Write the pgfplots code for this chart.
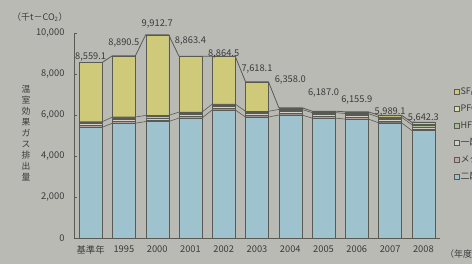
\documentclass[border=0pt]{standalone}
\usepackage{fontspec}
\setmainfont{Noto Sans CJK JP}
\usepackage{pgfplots}
\pgfplotsset{compat=1.18}
\usepackage{pgfplotstable}

\definecolor{bg}{HTML}{BABAB5}
\definecolor{co2}{HTML}{9EC3CF}
\definecolor{ch4}{HTML}{C4A9A2}
\definecolor{n2o}{HTML}{D2D2CA}
\definecolor{hfc}{HTML}{A9BE94}
\definecolor{pfc}{HTML}{DCDCB0}
\definecolor{sf6}{HTML}{CFC97A}
\definecolor{txt}{HTML}{3A3A3A}
\definecolor{edge}{HTML}{5A5A55}

\pgfplotstableread{
x co2 ch4 n2o hfc pfc sf6
0 5400 90 110 40 30 2889.1
1 5600 90 110 60 40 2990.5
2 5680 80 110 60 50 3932.7
3 5850 80 100 60 50 2723.4
4 6250 80 100 60 40 2334.5
5 5900 80 100 60 40 1438.1
6 6000 80 100 60 30 88.0
7 5850 80 100 60 30 67.0
8 5800 80 100 60 30 85.9
9 5620 80 100 60 30 99.1
10 5240 80 100 80 30 112.3
}\gasdata

\pgfplotstableread{
x tot co2 mid
-0.345 8559.1 5400 5670
0.345 8559.1 5400 5670
0.655 8890.5 5600 5900
1.345 8890.5 5600 5900
1.655 9912.7 5680 5980
2.345 9912.7 5680 5980
2.655 8863.4 5850 6140
3.345 8863.4 5850 6140
3.655 8864.5 6250 6530
4.345 8864.5 6250 6530
4.655 7618.1 5900 6180
5.345 7618.1 5900 6180
5.655 6358.0 6000 6270
6.345 6358.0 6000 6270
6.655 6187.0 5850 6120
7.345 6187.0 5850 6120
7.655 6155.9 5800 6070
8.345 6155.9 5800 6070
8.655 5989.1 5620 5890
9.345 5989.1 5620 5890
9.655 5642.3 5240 5530
10.345 5642.3 5240 5530
}\serieslines

\pgfplotstableread{
x y label
0 8830 8,559.1
1 9530 8,890.5
2 10440 9,912.7
3 9620 8,863.4
4 8980 8,864.5
5 8250 7,618.1
6 7710 6,358.0
7 7080 6,187.0
8 6730 6,155.9
9 6160 5,989.1
10 5840 5,642.3
}\labeldata

\begin{document}
\begin{tikzpicture}
\fill[bg] (0,0) rectangle (472pt,264pt);
\begin{axis}[
  at={(74pt,26pt)}, anchor=south west,
  scale only axis, width=366pt, height=205pt,
  xmin=-0.5, xmax=10.5, ymin=0, ymax=10000,
  ybar stacked, bar width=23pt,
  axis x line*=bottom, axis y line*=left,
  axis line style={draw=edge, line width=0.8pt},
  xtick={0,...,10},
  xticklabels={基準年,1995,2000,2001,2002,2003,2004,2005,2006,2007,2008},
  ytick={0,2000,4000,6000,8000,10000},
  scaled y ticks=false,
  xtick style={draw=none},
  ytick style={draw=edge, line width=0.6pt},
  tick align=inside, major tick length=3pt,
  /pgf/number format/assume math mode=true,
  /pgf/number format/1000 sep={,},
  tick label style={font=\fontsize{9.3}{11}\selectfont, text=txt},
  yticklabel style={xshift=-6pt},
  xticklabel style={yshift=-4pt},
  clip=false,
  reverse legend,
  legend style={at={(rel axis cs:1.03,0.75)}, anchor=north west,
    draw=none, fill=none, font=\fontsize{9}{10}\selectfont, text=txt,
    row sep=6.5pt, nodes={inner sep=1pt, text height=7pt, text depth=1.5pt}},
  legend image code/.code={\draw[#1, draw=edge, line width=0.4pt] (0pt,-2.5pt) rectangle (5pt,2.5pt);},
  legend cell align=left,
]
\addplot[fill=co2, draw=edge, line width=0.3pt] table[x=x,y=co2]{\gasdata};
\addplot[fill=ch4, draw=edge, line width=0.3pt] table[x=x,y=ch4]{\gasdata};
\addplot[fill=n2o, draw=edge, line width=0.3pt] table[x=x,y=n2o]{\gasdata};
\addplot[fill=hfc, draw=edge, line width=0.3pt] table[x=x,y=hfc]{\gasdata};
\addplot[fill=pfc, draw=edge, line width=0.3pt] table[x=x,y=pfc]{\gasdata};
\addplot[fill=sf6, draw=edge, line width=0.3pt] table[x=x,y=sf6]{\gasdata};
\legend{二酸化炭素,メタン,一酸化二窒素,HFCs,PFCs,SF\textsubscript{6}}
\end{axis}
\begin{axis}[
  at={(74pt,26pt)}, anchor=south west,
  scale only axis, width=366pt, height=205pt,
  xmin=-0.5, xmax=10.5, ymin=0, ymax=10000,
  hide axis, clip=false,
]
\addplot[draw=edge, line width=0.8pt, mark=none] table[x=x,y=tot]{\serieslines};
\addplot[draw=edge, line width=0.6pt, mark=none] table[x=x,y=co2]{\serieslines};
\addplot[draw=edge, line width=0.6pt, mark=none] table[x=x,y=mid]{\serieslines};
\addplot[draw=none, mark=none, nodes near coords, point meta=explicit symbolic,
  nodes near coords style={anchor=center, font=\fontsize{9.3}{11}\selectfont, text=txt}]
  table[x=x,y=y,meta=label]{\labeldata};
\end{axis}
\node[anchor=center, align=center, font=\fontsize{8.8}{11}\selectfont, text=txt]
  at (26pt,131pt) {温\\室\\効\\果\\ガ\\ス\\排\\出\\量};
\node[anchor=west, font=\fontsize{9}{10}\selectfont, text=txt, inner sep=0pt]
  at (12pt,247pt) {（千t－CO\textsubscript{2}）};
\node[anchor=west, font=\fontsize{9}{10}\selectfont, text=txt, inner sep=0pt]
  at (445pt,10pt) {（年度）};
\pgfresetboundingbox
\path[use as bounding box] (0,0) rectangle (472pt,264pt);
\end{tikzpicture}
\end{document}
